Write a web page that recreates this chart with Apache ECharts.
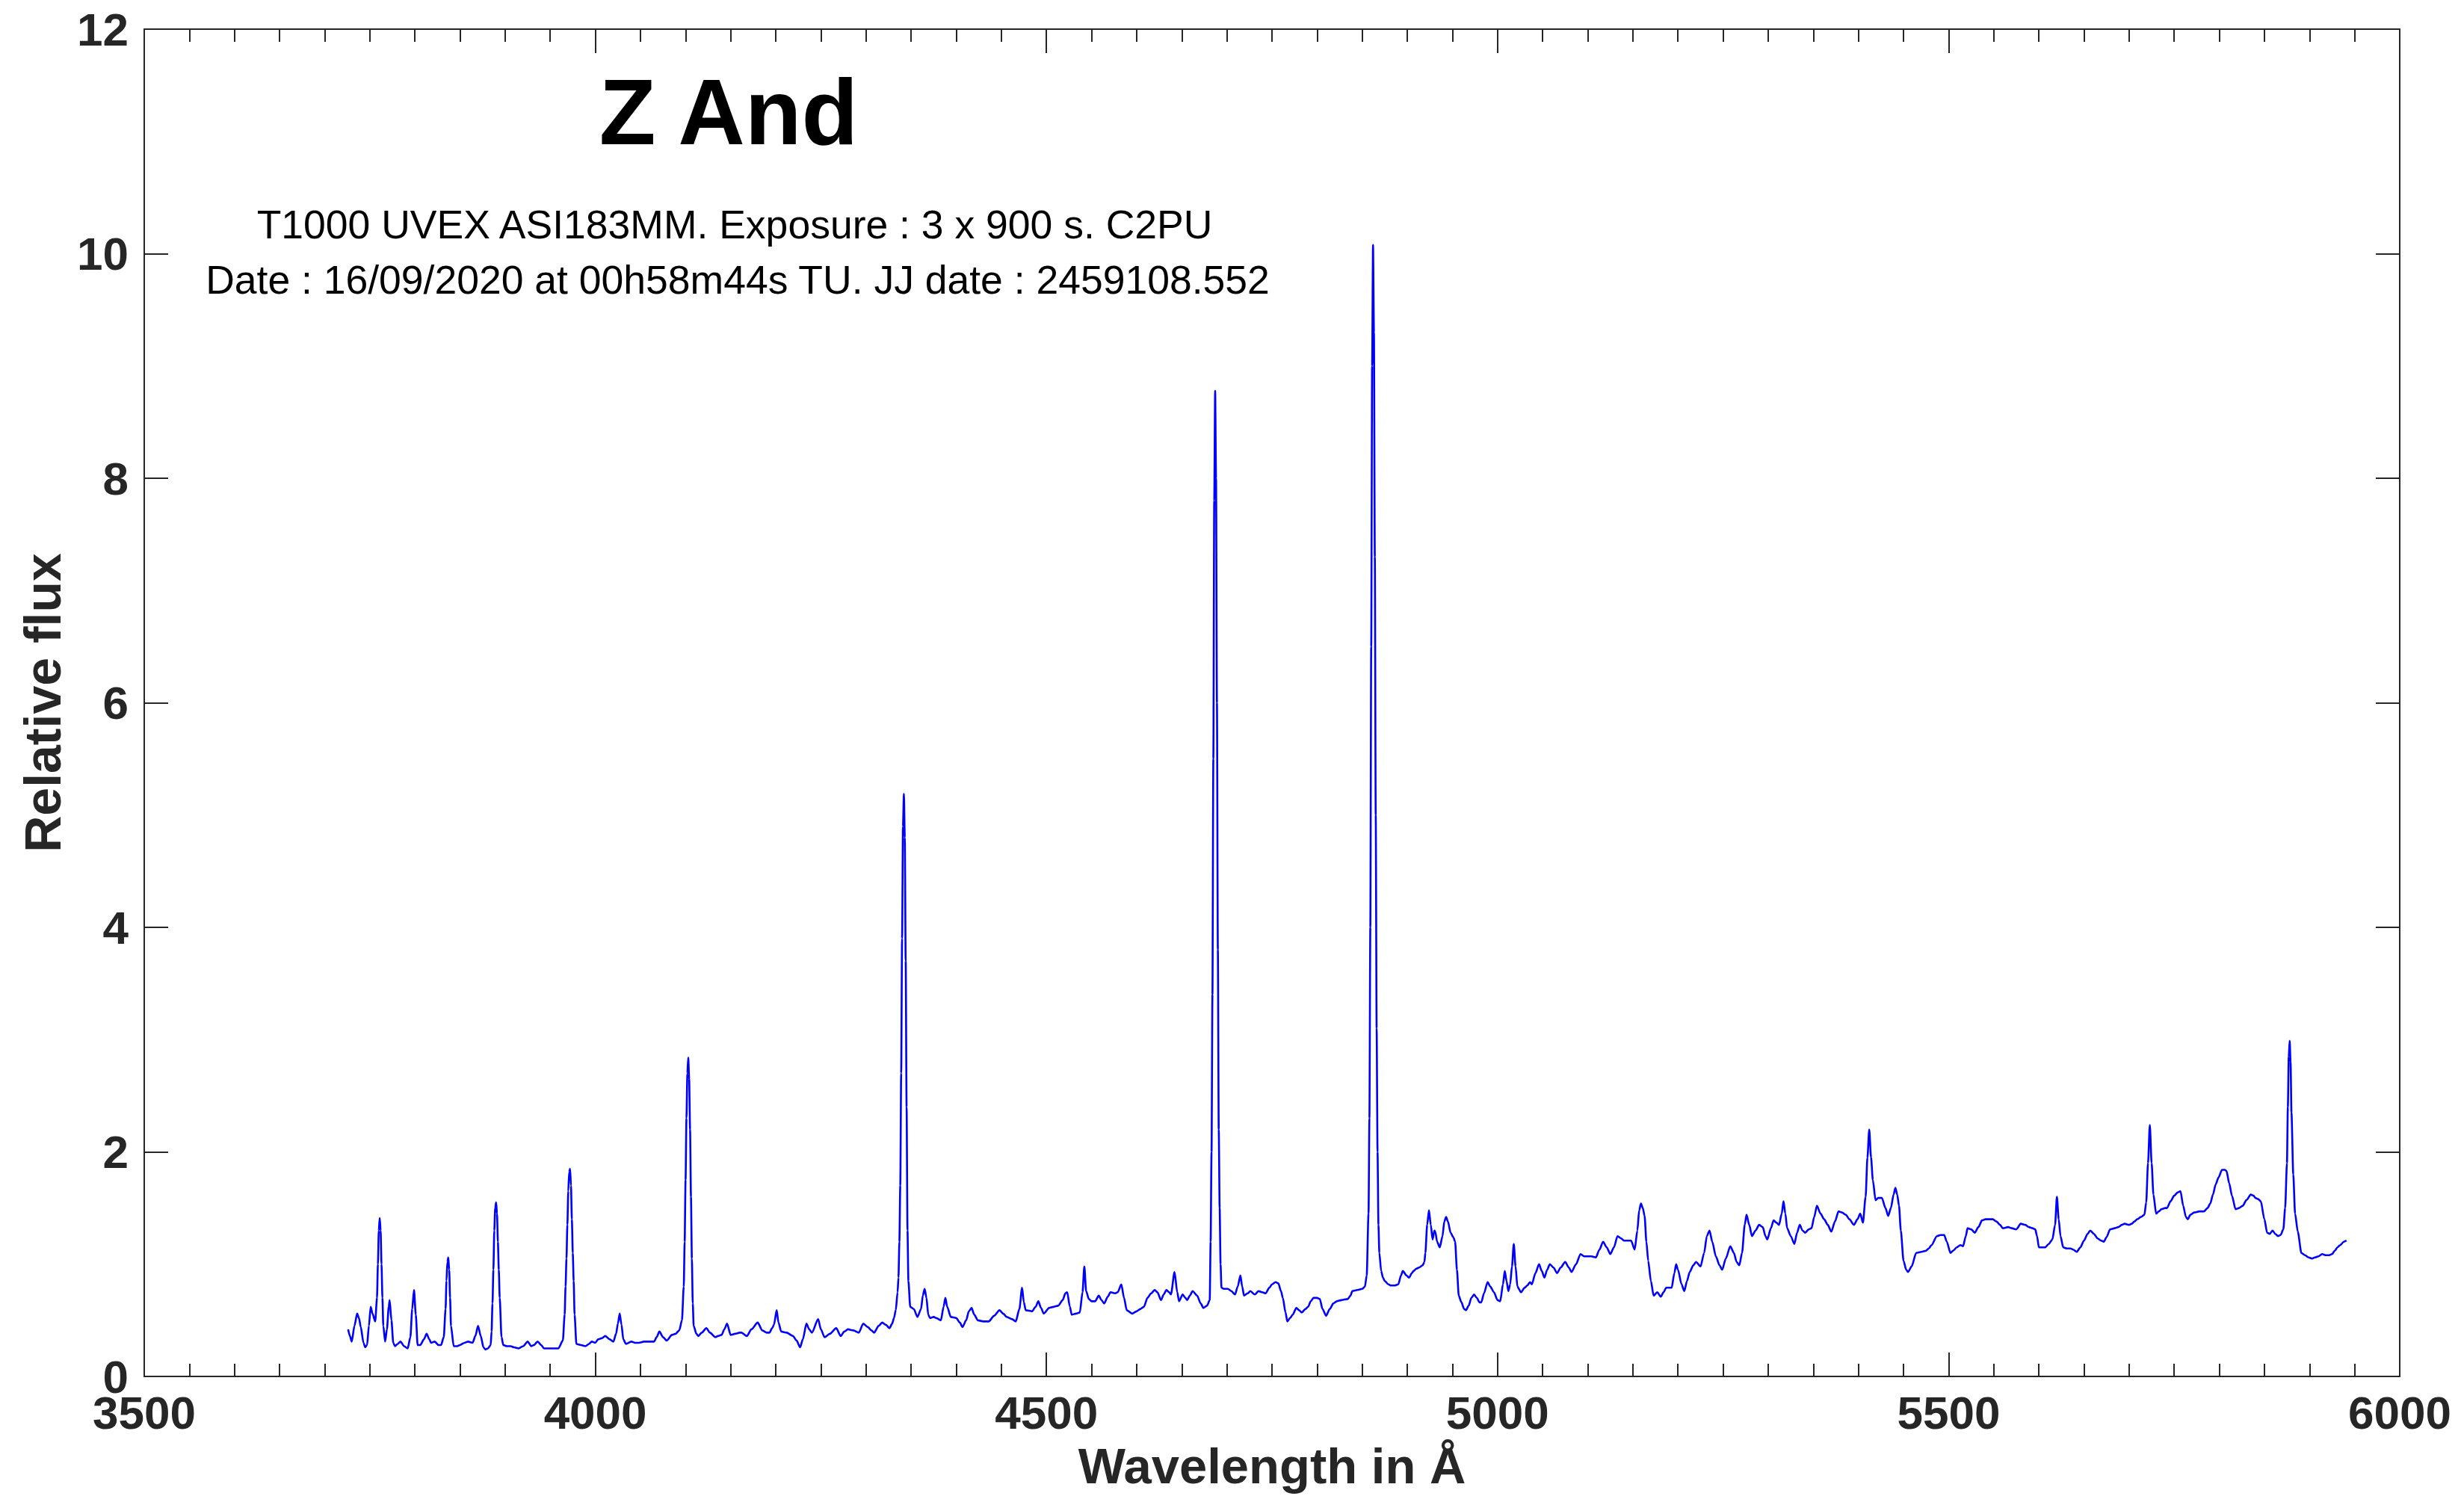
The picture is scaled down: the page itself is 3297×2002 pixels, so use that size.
<!DOCTYPE html>
<html>
<head>
<meta charset="utf-8">
<script src="https://cdn.jsdelivr.net/npm/echarts@6/dist/echarts.min.js"></script>
<style>
  html, body { margin: 0; padding: 0; background: #ffffff; }
  #chart { width: 3297px; height: 2002px; }
</style>
</head>
<body>
<div id="chart"></div>
<script>
// ---- Data ----
const titleText = "Z And";
const infoLine1 = "T1000 UVEX ASI183MM. Exposure : 3 x 900 s. C2PU";
const infoLine2 = "Date : 16/09/2020 at 00h58m44s TU. JJ date : 2459108.552";
const xAxisName = "Wavelength in Å";
const yAxisName = "Relative flux";

const xTicks = [3500, 4000, 4500, 5000, 5500, 6000];
const yTicks = [0, 2, 4, 6, 8, 10, 12];

// Wavelength (Å)
const wavelengths = [
3726,3728,3730,3733,3736,3738,3740,3743,3745,3747,3749,3751,3753,3756,3758,3759,3760,3761,3762,3763,3764,3765,3767,3769,3771,3772,3774,3776,3778,3781,3784,3788,3792,3795,3797,3799,3801,3803,3806,3810,3813,3816,3818,3822,3826,3829,3832,3834,3835,3836,3837,3838,3839,3840,3843,3847,3850,3855,3859,3864,3867,3870,3873,3876,3878,3881,3884,3885,3886,3887,3888,3889,3890,3891,3892,3893,3894,3896,3898,3902,3906,3910,3915,3920,3925,3929,3932,3936,3940,3943,3950,3959,3964,3966,3967,3968,3969,3970,3971,3972,3973,3974,3975,3976,3977,3979,3984,3989,3993,3996,
4000,4003,4007,4011,4016,4020,4023,4025,4027,4029,4031,4034,4040,4044,4048,4054,4060,4065,4068,4071,4075,4079,4085,4089,4093,4096,4098,4099,4100,4101,4102,4103,4104,4105,4106,4107,4108,4109,4112,4114,4118,4123,4127,4133,4136,4140,4143,4146,4150,4155,4160,4162,4168,4173,4180,4185,4190,4193,4196,4198,4201,4203,4206,4212,4219,4223,4227,4230,4234,4237,4240,4247,4250,4254,4260,4267,4272,4276,4280,4286,4292,4297,4302,4306,4309,4314,4318,4322,4326,4329,4331,4333,4335,4336,4337,4338,4339,4340,4341,4342,4343,4344,4345,4346,4347,4349,4353,4357,4361,4363,4365,4367,4369,4371,4375,4378,4383,4386,4388,4390,4394,4400,4404,4407,4411,4414,4417,4420,4424,4430,4436,4442,4448,4452,4456,4462,4466,4470,4473,4475,4477,4484,4488,4491,4494,4497,
4503,4508,4513,4518,4521,4523,4526,4528,4533,4537,4540,4542,4544,4547,4550,4554,4558,4561,4564,4568,4571,4576,4579,4583,4586,4589,4595,4600,4604,4608,4612,4616,4620,4623,4627,4630,4633,4636,4638,4642,4645,4647,4651,4654,4656,4659,4662,4667,4671,4674,4678,4681,4682,4683,4684,4685,4686,4687,4688,4689,4690,4691,4692,4693,4694,4697,4701,4705,4709,4712,4715,4717,4719,4723,4726,4731,4735,4739,4743,4747,4750,4754,4757,4760,4762,4765,4767,4770,4773,4777,4780,4783,4787,4790,4793,4796,4800,4803,4806,4810,4814,4818,4822,4827,4834,4837,4839,4845,4850,4853,4855,4857,4858,4859,4860,4861,4862,4863,4864,4865,4866,4867,4868,4869,4871,4873,4875,4879,4882,4886,4890,4893,4895,4899,4902,4905,4907,4910,4913,4917,4919,4920,4922,4924,4926,4928,4930,4931,4933,4936,4939,4941,4943,4945,4948,4951,4953,4955,4957,4960,4963,4965,4968,4971,4974,4977,4980,4982,4985,4989,4992,4996,
5000,5003,5006,5008,5010,5012,5014,5016,5018,5020,5022,5026,5030,5033,5036,5038,5042,5046,5049,5052,5055,5058,5062,5066,5070,5075,5079,5082,5087,5092,5096,5099,5104,5109,5113,5117,5121,5125,5129,5133,5137,5140,5144,5148,5152,5155,5157,5159,5161,5163,5165,5167,5170,5173,5177,5181,5184,5187,5193,5196,5198,5200,5204,5207,5210,5213,5217,5220,5225,5229,5232,5235,5238,5242,5246,5249,5253,5258,5262,5265,5268,5271,5274,5276,5279,5282,5286,5290,5294,5297,5299,5303,5306,5309,5312,5315,5317,5319,5321,5325,5329,5332,5335,5338,5341,5345,5348,5351,5354,5358,5362,5366,5370,5374,5378,5382,5386,5390,5395,5399,5402,5405,5408,5410,5412,5414,5416,5419,5422,5426,5430,5433,5436,5439,5441,5443,5445,5447,5450,5453,5455,5459,5464,5470,5475,5478,5481,5487,5491,5495,5498,
5502,5505,5509,5513,5516,5519,5521,5525,5529,5533,5537,5541,5545,5549,5553,5557,5560,5566,5570,5575,5580,5585,5589,5593,5596,5598,5600,5604,5607,5611,5615,5618,5620,5622,5624,5627,5631,5635,5638,5642,5646,5650,5654,5657,5661,5665,5669,5672,5675,5679,5684,5688,5692,5695,5700,5703,5706,5709,5713,5717,5719,5721,5723,5725,5727,5730,5733,5736,5740,5742,5746,5750,5754,5757,5760,5763,5765,5768,5772,5778,5783,5787,5790,5793,5796,5799,5803,5806,5808,5811,5814,5818,5822,5826,5830,5835,5838,5840,5843,5846,5850,5853,5856,5859,5862,5865,5868,5871,5873,5875,5876,5877,5878,5879,5880,5882,5884,5887,5891,5895,5899,5903,5906,5910,5914,5918,5922,5925,5928,5931,5934,5938,5941
];

// Relative flux
const flux = [
0.42,0.36,0.31,0.45,0.56,0.52,0.44,0.30,0.26,0.28,0.45,0.62,0.56,0.49,0.70,1.00,1.30,1.41,1.30,1.00,0.70,0.45,0.31,0.42,0.62,0.68,0.50,0.30,0.27,0.29,0.31,0.27,0.25,0.35,0.60,0.77,0.55,0.28,0.28,0.33,0.38,0.33,0.30,0.31,0.28,0.28,0.35,0.60,0.85,1.02,1.06,0.95,0.70,0.45,0.27,0.27,0.28,0.30,0.31,0.30,0.36,0.45,0.36,0.26,0.24,0.25,0.28,0.40,0.65,0.95,1.30,1.50,1.55,1.45,1.20,0.95,0.70,0.35,0.28,0.27,0.27,0.26,0.25,0.27,0.31,0.27,0.28,0.31,0.28,0.25,0.25,0.25,0.32,0.55,0.80,1.05,1.35,1.65,1.82,1.85,1.70,1.40,1.10,0.85,0.55,0.29,0.28,0.27,0.29,0.31,
0.30,0.33,0.34,0.36,0.33,0.31,0.38,0.47,0.56,0.46,0.33,0.29,0.31,0.30,0.30,0.31,0.31,0.31,0.35,0.40,0.35,0.32,0.37,0.38,0.41,0.50,0.80,1.20,1.75,2.30,2.70,2.84,2.65,2.20,1.60,1.05,0.65,0.45,0.38,0.36,0.39,0.43,0.39,0.35,0.36,0.37,0.42,0.47,0.37,0.38,0.39,0.39,0.36,0.42,0.48,0.41,0.39,0.39,0.43,0.46,0.59,0.48,0.40,0.39,0.36,0.32,0.26,0.33,0.47,0.42,0.39,0.51,0.42,0.35,0.38,0.43,0.36,0.40,0.42,0.41,0.39,0.47,0.44,0.41,0.39,0.45,0.48,0.46,0.43,0.47,0.52,0.59,0.75,0.88,1.20,1.70,2.70,3.90,4.90,5.19,4.80,3.70,2.40,1.30,0.85,0.62,0.60,0.53,0.60,0.72,0.78,0.70,0.55,0.52,0.53,0.52,0.50,0.62,0.70,0.62,0.53,0.52,0.48,0.44,0.50,0.58,0.61,0.55,0.50,0.49,0.49,0.54,0.59,0.56,0.53,0.51,0.49,0.60,0.79,0.66,0.59,0.58,0.62,0.67,0.61,0.56,
0.61,0.62,0.63,0.68,0.74,0.75,0.62,0.55,0.56,0.57,0.75,0.98,0.76,0.69,0.67,0.67,0.72,0.68,0.65,0.71,0.75,0.74,0.75,0.82,0.70,0.59,0.56,0.58,0.60,0.62,0.70,0.74,0.77,0.75,0.68,0.73,0.77,0.75,0.73,0.93,0.75,0.67,0.73,0.70,0.68,0.72,0.76,0.72,0.65,0.61,0.63,0.68,1.20,2.00,3.40,5.50,7.80,8.78,8.00,6.00,3.80,2.20,1.50,1.00,0.79,0.78,0.78,0.76,0.73,0.80,0.90,0.80,0.72,0.74,0.76,0.73,0.76,0.75,0.74,0.79,0.82,0.84,0.83,0.76,0.70,0.57,0.49,0.52,0.55,0.61,0.59,0.57,0.60,0.62,0.67,0.70,0.70,0.69,0.60,0.54,0.60,0.65,0.67,0.68,0.69,0.72,0.76,0.77,0.78,0.80,0.90,1.45,2.30,4.00,6.50,9.00,10.08,9.30,7.30,5.00,3.10,2.00,1.35,1.10,0.94,0.88,0.85,0.82,0.81,0.81,0.82,0.90,0.94,0.90,0.88,0.92,0.94,0.96,0.97,0.99,1.02,1.10,1.35,1.48,1.35,1.22,1.30,1.29,1.20,1.15,1.25,1.38,1.42,1.38,1.28,1.24,1.20,0.95,0.72,0.66,0.60,0.59,0.63,0.70,0.73,0.70,0.66,0.66,0.74,0.84,0.80,0.75,
0.68,0.67,0.82,0.94,0.85,0.76,0.82,0.98,1.18,0.98,0.80,0.75,0.79,0.81,0.84,0.82,0.92,1.00,0.94,0.88,0.95,1.00,0.97,0.92,0.97,1.02,0.97,0.93,1.00,1.09,1.07,1.07,1.07,1.06,1.13,1.20,1.15,1.09,1.15,1.25,1.23,1.21,1.21,1.21,1.13,1.30,1.48,1.54,1.50,1.43,1.20,1.03,0.85,0.72,0.75,0.71,0.75,0.79,0.79,0.92,1.00,0.95,0.82,0.76,0.85,0.93,0.99,1.02,0.98,1.10,1.25,1.30,1.20,1.07,0.99,0.95,1.05,1.16,1.10,1.02,0.99,1.10,1.35,1.44,1.35,1.25,1.30,1.35,1.33,1.25,1.22,1.32,1.39,1.37,1.35,1.45,1.56,1.45,1.32,1.25,1.18,1.28,1.35,1.30,1.28,1.31,1.32,1.42,1.52,1.45,1.40,1.35,1.29,1.38,1.47,1.46,1.44,1.40,1.35,1.40,1.45,1.37,1.60,1.95,2.20,1.95,1.75,1.57,1.59,1.59,1.50,1.43,1.50,1.62,1.68,1.62,1.52,1.30,1.03,0.95,0.93,0.98,1.10,1.11,1.12,1.14,1.17,1.25,1.26,1.26,1.20,
1.10,1.12,1.15,1.17,1.16,1.25,1.32,1.31,1.28,1.33,1.39,1.40,1.40,1.40,1.38,1.35,1.32,1.33,1.32,1.31,1.36,1.35,1.33,1.32,1.31,1.25,1.15,1.15,1.15,1.18,1.22,1.35,1.60,1.40,1.25,1.15,1.14,1.14,1.13,1.11,1.15,1.21,1.27,1.30,1.27,1.23,1.21,1.20,1.24,1.31,1.32,1.33,1.35,1.36,1.35,1.36,1.38,1.40,1.42,1.44,1.55,1.90,2.24,1.90,1.62,1.45,1.47,1.49,1.50,1.50,1.56,1.61,1.64,1.65,1.52,1.42,1.40,1.44,1.46,1.47,1.47,1.50,1.54,1.62,1.71,1.77,1.84,1.84,1.83,1.72,1.61,1.49,1.50,1.52,1.57,1.62,1.61,1.59,1.58,1.56,1.40,1.28,1.27,1.30,1.27,1.25,1.26,1.31,1.50,1.90,2.40,2.85,2.99,2.80,2.35,1.80,1.45,1.29,1.10,1.08,1.06,1.05,1.06,1.07,1.09,1.08,1.08,1.09,1.12,1.15,1.17,1.20,1.21
];

// ---- Chart ----
const FONT = "'Liberation Sans', Arial, Helvetica, sans-serif";
const AXIS_COLOR = '#262626';
const seriesData = wavelengths.map((w, i) => [w, flux[i]]);

const chart = echarts.init(document.getElementById('chart'), null, { renderer: 'svg' });

function xAxisCfg(pos, showLabel) {
  return {
    type: 'value', position: pos,
    min: xTicks[0], max: xTicks[xTicks.length - 1], interval: xTicks[1] - xTicks[0],
    axisLine: { show: true, onZero: false, lineStyle: { color: AXIS_COLOR, width: 2 } },
    axisTick: { show: true, inside: true, length: 32, lineStyle: { color: AXIS_COLOR, width: 2 } },
    minorTick: { show: true, splitNumber: 10, length: 17, lineStyle: { color: AXIS_COLOR, width: 2 } },
    splitLine: { show: false },
    minorSplitLine: { show: false },
    axisLabel: { show: showLabel, fontSize: 62, lineHeight: 44, fontWeight: 'bold', color: AXIS_COLOR, fontFamily: FONT, margin: 26,
                 formatter: v => String(v) },
    name: showLabel ? xAxisName : '',
    nameLocation: 'middle', nameGap: 86,
    nameTextStyle: { fontSize: 67, fontWeight: 'bold', color: AXIS_COLOR, fontFamily: FONT }
  };
}
function yAxisCfg(pos, showLabel) {
  return {
    type: 'value', position: pos,
    min: yTicks[0], max: yTicks[yTicks.length - 1], interval: yTicks[1] - yTicks[0],
    axisLine: { show: true, onZero: false, lineStyle: { color: AXIS_COLOR, width: 2 } },
    axisTick: { show: true, inside: true, length: 32, lineStyle: { color: AXIS_COLOR, width: 2 } },
    splitLine: { show: false },
    axisLabel: { show: showLabel, fontSize: 62, lineHeight: 44, fontWeight: 'bold', color: AXIS_COLOR, fontFamily: FONT, margin: 21,
                 formatter: v => String(v) },
    name: showLabel ? yAxisName : '',
    nameLocation: 'middle', nameGap: 102, nameRotate: 90,
    nameTextStyle: { fontSize: 68, fontWeight: 'bold', color: AXIS_COLOR, fontFamily: FONT }
  };
}

chart.setOption({
  animation: false,
  backgroundColor: '#ffffff',
  grid: { left: 193, right: 86, top: 39, bottom: 160, containLabel: false },
  xAxis: [xAxisCfg('bottom', true), xAxisCfg('top', false)],
  yAxis: [yAxisCfg('left', true), yAxisCfg('right', false)],
  series: [{
    type: 'line',
    data: seriesData,
    xAxisIndex: 0, yAxisIndex: 0,
    showSymbol: false, symbol: 'none',
    smooth: 0.25, smoothMonotone: 'x',
    lineStyle: { color: '#0000ff', width: 2.6 },
    clip: true
  }],
  graphic: [
    { type: 'text', x: 975, y: 150,
      style: { text: titleText, font: "bold 124px " + FONT, fill: '#000000', textAlign: 'center', textVerticalAlign: 'middle' } },
    { type: 'text', x: 983, y: 300,
      style: { text: infoLine1, font: "53.5px " + FONT, fill: '#000000', textAlign: 'center', textVerticalAlign: 'middle' } },
    { type: 'text', x: 987, y: 374,
      style: { text: infoLine2, font: "53.5px " + FONT, fill: '#000000', textAlign: 'center', textVerticalAlign: 'middle' } }
  ]
});
</script>
</body>
</html>
